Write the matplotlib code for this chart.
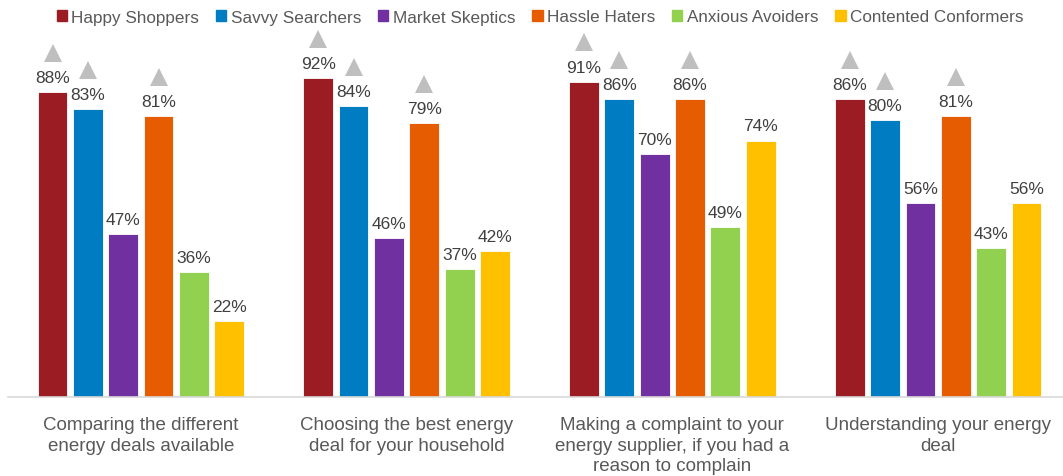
import matplotlib.pyplot as plt
import numpy as np
from matplotlib.patches import Patch

plt.rcParams["font.family"] = ["Liberation Sans", "DejaVu Sans"]

categories = [
    "Comparing the different\nenergy deals available",
    "Choosing the best energy\ndeal for your household",
    "Making a complaint to your\nenergy supplier, if you had a\nreason to complain",
    "Understanding your energy\ndeal",
]
segments = [
    "Happy Shoppers",
    "Savvy Searchers",
    "Market Skeptics",
    "Hassle Haters",
    "Anxious Avoiders",
    "Contented Conformers",
]
happy_shoppers = [88, 92, 91, 86]
savvy_searchers = [83, 84, 86, 80]
market_skeptics = [47, 46, 70, 56]
hassle_haters = [81, 79, 86, 81]
anxious_avoiders = [36, 37, 49, 43]
contented_conformers = [22, 42, 74, 56]
# segments flagged with a grey triangle (significantly higher)
flagged = ["Happy Shoppers", "Savvy Searchers", "Hassle Haters"]

colors = {
    "Happy Shoppers": "#9B1D23",
    "Savvy Searchers": "#007CC2",
    "Market Skeptics": "#7030A0",
    "Hassle Haters": "#E65C00",
    "Anxious Avoiders": "#92D050",
    "Contented Conformers": "#FFC000",
}

series = [happy_shoppers, savvy_searchers, market_skeptics,
          hassle_haters, anxious_avoiders, contented_conformers]

fig = plt.figure(figsize=(10.63, 4.77), dpi=100)
ax = fig.add_axes([8 / 1063, 1 - 398 / 477, 1 - 8 / 1063, (398 - 30.6) / 477])

x = np.arange(len(categories))
step = 0.133
width = 0.112
for i, (name, vals) in enumerate(zip(segments, series)):
    pos = x + (i - 2.5) * step
    ax.bar(pos, vals, width, color=colors[name], edgecolor="white", linewidth=0.6)
    for p, v in zip(pos, vals):
        ax.text(p, v + 2.9, f"{v}%", ha="center", va="baseline",
                fontsize=12.5, color="#404040")
        if name in flagged:
            ax.plot(p, v + 11.3, marker="^", ms=13, color="#BFBFBF",
                    markeredgewidth=0, linestyle="none")

ax.set_xlim(-0.5, 3.47)
ax.set_ylim(0, 106)
ax.set_yticks([])
ax.set_xticks(x)
ax.set_xticklabels(categories, fontsize=13.5, color="#595959", linespacing=1.27)
ax.tick_params(axis="x", length=0, pad=14)
for s in ["top", "right", "left"]:
    ax.spines[s].set_visible(False)
ax.spines["bottom"].set_color("#D9D9D9")
ax.spines["bottom"].set_linewidth(1.2)

handles = [Patch(color=colors[s], label=s) for s in segments]
fig.legend(handles=handles, loc="center", bbox_to_anchor=(0.508, 1 - 18 / 477),
           ncol=6, frameon=False, fontsize=12.3, handlelength=0.6, handleheight=0.6,
           handletextpad=0.25, columnspacing=1.0, labelcolor="#595959",
           borderaxespad=0)

fig.savefig("out.png", dpi=100)
